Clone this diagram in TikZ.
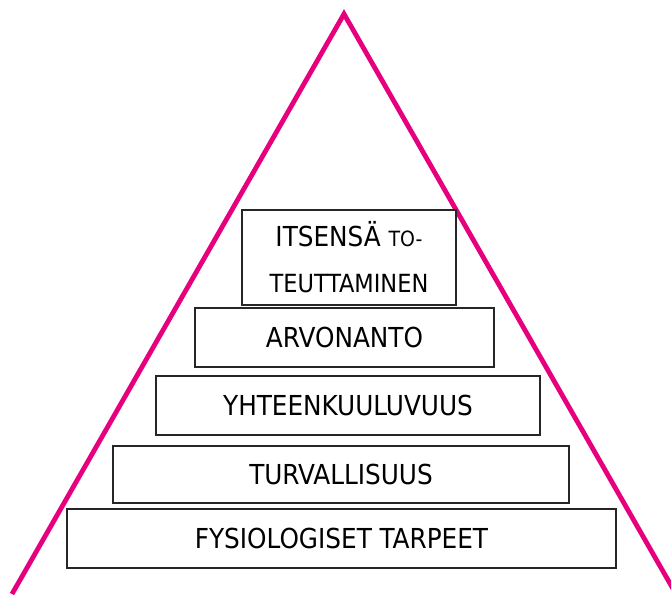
\documentclass[tikz,border=0pt]{standalone}
\usepackage{fontspec}
\setmainfont{DejaVu Sans Condensed}
\usepackage{tikz}
\definecolor{pyramidpink}{RGB}{230,0,126}

\begin{document}
\begin{tikzpicture}[x=1pt,y=-1pt,
    level/.style={draw=black!85,line width=1.2pt,fill=white,inner sep=0pt,
      font=\fontsize{27.5}{33}\selectfont,text=black}]
  \useasboundingbox (0,0) rectangle (671,594);
  \clip (0,0) rectangle (671,594);

  % the pyramid
  \coordinate (top) at (344,14);
  \coordinate (bl) at (12,594);
  \coordinate (br) at (676,594);
  \draw[pyramidpink,line width=4.8pt,line join=miter] (bl) -- (top) -- (br);

  % levels, bottom to top
  \node[level,minimum width=549pt,minimum height=59pt] (fys) at (341.5,538.5) {FYSIOLOGISET TARPEET};
  \node[level,minimum width=456pt,minimum height=57pt] (tur) at (341,474.5) {TURVALLISUUS};
  \node[level,minimum width=384pt,minimum height=59pt] (yht) at (348,405.5) {YHTEENKUULUVUUS};
  \node[level,minimum width=299pt,minimum height=59pt] (arv) at (344.5,337.5) {ARVONANTO};
  \node[level,minimum width=214pt,minimum height=95pt,align=center] (its) at (349,257.5)
    {ITSENSÄ {\fontsize{21}{24}\selectfont TO-}\\[13pt]{\fontsize{25}{30}\selectfont TEUTTAMINEN}};
\end{tikzpicture}
\end{document}
